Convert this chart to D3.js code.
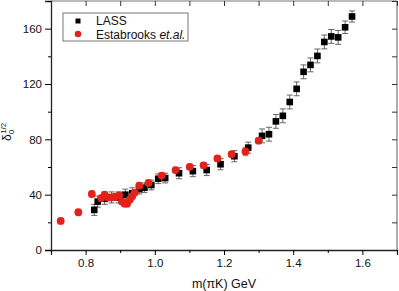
<!DOCTYPE html>
<html><head><meta charset="utf-8">
<script src="https://cdn.jsdelivr.net/npm/d3@7"></script>
<style>body{margin:0;background:#fff}svg{display:block}text{font-family:"Liberation Sans",Arial,sans-serif}</style>
</head><body><svg id="c" width="399" height="291"></svg>
<script>
const lassMass = [0.825,0.835,0.855,0.875,0.895,0.915,0.935,0.955,0.970,0.990,1.010,1.030,1.070,1.110,1.150,1.190,1.230,1.270,1.310,1.330,1.350,1.370,1.390,1.410,1.430,1.450,1.470,1.490,1.510,1.530,1.550,1.570];
const lassPhase = [29,35,37,38,38,40,41,44,45,47,51.5,52,55.5,57,57.8,62,67.8,74,82.5,83.7,93,97,107,116.5,128.8,133.8,140.3,150.4,154.4,153.7,161,168.8];
const lassErr = [4,4,4,4,4,4,4,3.5,3.5,3.5,3.5,3.5,4,4,4,4,4,4,5,5,5,5,5,5,5,5,5,5,5,5,4.5,4];
const estMass = [0.728,0.779,0.818,0.845,0.855,0.865,0.875,0.885,0.897,0.905,0.913,0.920,0.928,0.935,0.942,0.955,0.982,1.020,1.060,1.101,1.141,1.181,1.222,1.262,1.300];
const estPhase = [21,27.3,40.5,37.5,40,38,38,38.5,39.5,35,33.5,33.5,36.5,39,41.5,46.5,48.5,53.8,57.8,60.1,61.2,66.2,69.2,71.2,79];
const estErr = [2,2,2,2,2,2,2,2,2,2,2,2,2,2,2,2,2,2,2,2,2,2,2,3,2];
const xTicks = [0.8,1.0,1.2,1.4,1.6];
const xMinor = [0.7,0.9,1.1,1.3,1.5,1.7];
const yTicks = [0,40,80,120,160];
const yMinor = [20,60,100,140,180];

const svg = d3.select("#c");
const L=51,R=397,T=1,B=250;
const x = d3.scaleLinear().domain([0.7,1.7]).range([L,R]);
const y = d3.scaleLinear().domain([0,180]).range([B,T]);

svg.append("line").attr("x1",L).attr("x2",R).attr("y1",T).attr("y2",T).attr("stroke","#777").attr("stroke-width",1.2);
svg.append("line").attr("x1",R).attr("x2",R).attr("y1",T).attr("y2",B).attr("stroke","#777").attr("stroke-width",1.2);

svg.append("g").attr("transform",`translate(0,${T})`)
  .call(d3.axisBottom(x).tickValues(d3.range(7,18).map(d=>d/10)).tickSize(5).tickFormat(""))
  .call(g=>{g.select(".domain").remove();g.selectAll("line").attr("stroke","#333");});
svg.append("g").attr("transform",`translate(${R},0)`)
  .call(d3.axisLeft(y).tickValues(d3.range(0,181,20)).tickSize(5).tickFormat(""))
  .call(g=>{g.select(".domain").remove();g.selectAll("line").attr("stroke","#333");});

const xa = svg.append("g").attr("transform",`translate(0,${B})`)
  .call(d3.axisBottom(x).tickValues(xTicks).tickSize(5).tickPadding(4).tickFormat(d3.format(".1f")));
xa.select(".domain").attr("stroke","#222").attr("stroke-width",1.3);
xa.selectAll("text").attr("font-size",11.5).attr("fill","#111").attr("font-family","Liberation Sans, Arial, sans-serif");
svg.append("g").attr("transform",`translate(0,${B})`)
  .call(d3.axisBottom(x).tickValues(xMinor).tickSize(3).tickFormat(""))
  .call(g=>g.select(".domain").remove());

const ya = svg.append("g").attr("transform",`translate(${L},0)`)
  .call(d3.axisLeft(y).tickValues(yTicks).tickSize(6).tickPadding(3).tickFormat(d3.format("d")));
ya.select(".domain").attr("stroke","#222").attr("stroke-width",1.3);
ya.selectAll("text").attr("font-size",11.5).attr("fill","#111").attr("font-family","Liberation Sans, Arial, sans-serif");
svg.append("g").attr("transform",`translate(${L},0)`)
  .call(d3.axisLeft(y).tickValues(yMinor).tickSize(3).tickFormat(""))
  .call(g=>g.select(".domain").remove());

function errBars(mass, val, err, color){
  const g = svg.append("g").attr("stroke",color).attr("stroke-width",1);
  mass.forEach((m,i)=>{
    const cx=x(m), y1=y(val[i]+err[i]), y2=y(val[i]-err[i]);
    g.append("line").attr("x1",cx).attr("x2",cx).attr("y1",y1).attr("y2",y2);
    g.append("line").attr("x1",cx-3).attr("x2",cx+3).attr("y1",y1).attr("y2",y1);
    g.append("line").attr("x1",cx-3).attr("x2",cx+3).attr("y1",y2).attr("y2",y2);
  });
}
errBars(lassMass,lassPhase,lassErr,"#666");
errBars(estMass,estPhase,estErr,"#e8806a");

svg.append("g").selectAll("rect").data(lassMass).join("rect")
  .attr("x",(d)=>x(d)-3.3).attr("y",(d,i)=>y(lassPhase[i])-3.3).attr("width",6.6).attr("height",6.6).attr("fill","#000");
svg.append("g").selectAll("circle").data(estMass).join("circle")
  .attr("cx",d=>x(d)).attr("cy",(d,i)=>y(estPhase[i])).attr("r",3.9).attr("fill","#e2231a");

svg.append("rect").attr("x",63).attr("y",13).attr("width",125).attr("height",28).attr("fill","#fff").attr("stroke","#777").attr("stroke-width",1);
svg.append("rect").attr("x",75.5).attr("y",18.5).attr("width",5).attr("height",5).attr("fill","#000");
svg.append("circle").attr("cx",78).attr("cy",34).attr("r",3.3).attr("fill","#e2231a");
svg.append("text").attr("x",96).attr("y",25).attr("font-size",12).attr("fill","#111").text("LASS");
const et = svg.append("text").attr("x",96).attr("y",38.5).attr("font-size",12).attr("fill","#111");
et.append("tspan").text("Estabrooks ");
et.append("tspan").attr("font-style","italic").text("et.al.");

svg.append("text").attr("x",(L+R)/2).attr("y",288).attr("text-anchor","middle").attr("font-size",12.5).attr("fill","#111").text("m(πK) GeV");
const yl = svg.append("text").attr("transform","translate(11,141) rotate(-90)").attr("font-size",12).attr("fill","#111");
yl.append("tspan").text("δ");
yl.append("tspan").attr("font-size",8).attr("dy",3).text("0");
yl.append("tspan").attr("font-size",8).attr("dx",-4).attr("dy",-8).text("1/2");
</script></body></html>
